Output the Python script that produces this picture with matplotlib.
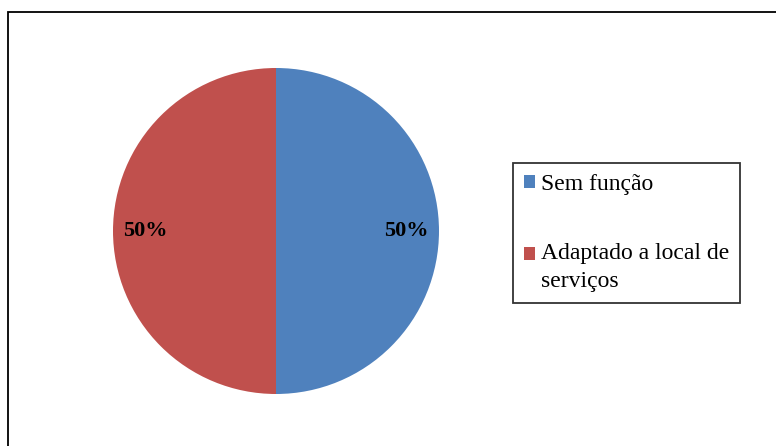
import matplotlib.pyplot as plt
from matplotlib.patches import Rectangle
from matplotlib.legend_handler import HandlerPatch

categorias = ["Sem função", "Adaptado a local de\nserviços"]
valores = [50, 50]
cores = ["#4F81BD", "#C0504D"]

W, H = 776, 446
plt.rcParams['font.family'] = ['Liberation Serif', 'DejaVu Serif']
fig = plt.figure(figsize=(W / 100, H / 100), dpi=100)

# moldura do gráfico (sai pela direita e por baixo)
fig.patches.append(Rectangle((8 / W, -0.1), 1.1, 1 - 12 / H + 0.1, transform=fig.transFigure,
                             fill=False, edgecolor="black", linewidth=1.3))

# pizza
cx, cy, r = 276, H - 231, 163
ax = fig.add_axes([(cx - r) / W, (cy - r) / H, 2 * r / W, 2 * r / H])
fatias, textos, pct = ax.pie(valores, colors=cores, startangle=90, counterclock=False,
                             autopct="%1.0f%%", pctdistance=0.8,
                             textprops=dict(fontsize=16, fontweight="bold", color="black"))
ax.set_xlim(-1, 1)
ax.set_ylim(-1, 1)
ax.set_aspect("equal")
ax.axis("off")


# quadradinho alinhado com a primeira linha do texto
def quadrado(legend, orig_handle, xdescent, ydescent, width, height, fontsize):
    desloc = 0
    if orig_handle is fatias[1]:
        desloc = 10
    return Rectangle((-xdescent, -ydescent + desloc), width, height)


leg = fig.legend(fatias, categorias, loc="upper left", bbox_to_anchor=(513 / W, 1 - 163 / H),
                 frameon=True, fancybox=False, edgecolor="black", fontsize=17,
                 handlelength=0.5, handleheight=0.5, handletextpad=0.25, labelspacing=2.05,
                 borderpad=0.45, borderaxespad=0,
                 handler_map={fatias[1]: HandlerPatch(patch_func=quadrado)})
leg.get_frame().set_linewidth(1.3)
for t in leg.get_texts():
    t.set_linespacing(1.45)

fig.savefig("out.png", dpi=100)
